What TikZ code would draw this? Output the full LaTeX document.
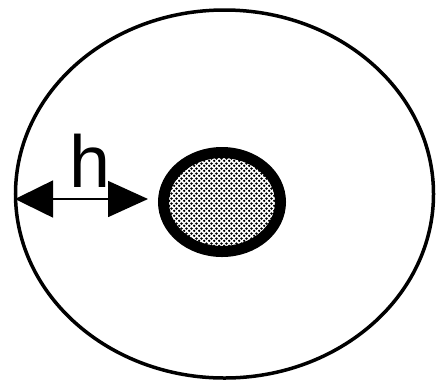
\documentclass[tikz,border=0pt]{standalone}
\usepackage{fontspec}
\setmainfont{Liberation Sans}
\usetikzlibrary{shapes.geometric,arrows.meta,patterns.meta}
\tikzdeclarepattern{
  name=hexdots,
  type=uncolored,
  bottom left={(0bp,0bp)},
  top right={(4.8bp,4.8bp)},
  tile size={(4.8bp,4.8bp)},
  code={
    \fill (1.2bp,1.2bp) circle (1.35bp);
    \fill (3.6bp,3.6bp) circle (1.35bp);
  }
}
\tikzset{
  cell/.style={ellipse, draw=black, line width=3.5bp, inner sep=0pt,
    minimum width=418bp, minimum height=368bp},
  core/.style={ellipse, draw=black, line width=11bp, inner sep=0pt,
    minimum width=117bp, minimum height=99bp, pattern={hexdots}, pattern color=black},
  dim/.style={line width=1.6bp, {Triangle[length=38bp,width=37bp]}-{Triangle[length=40bp,width=36bp]}},
  lbl/.style={font=\fontsize{74}{74}\selectfont, inner sep=0pt}
}
\begin{document}
\begin{tikzpicture}[x=1bp,y=-1bp]
\useasboundingbox (0,0) rectangle (437,386);
\fill[white] (0,0) rectangle (437,386);
\node[cell] (outer) at (224.5,194) {};
\node[core] (inner) at (222,202) {};
\coordinate (a) at (15,199);
\coordinate (b) at (148,199);
\draw[dim] (a) -- (b);
\node[lbl, anchor=base] (h) at (90,187) {h};
\end{tikzpicture}
\end{document}
